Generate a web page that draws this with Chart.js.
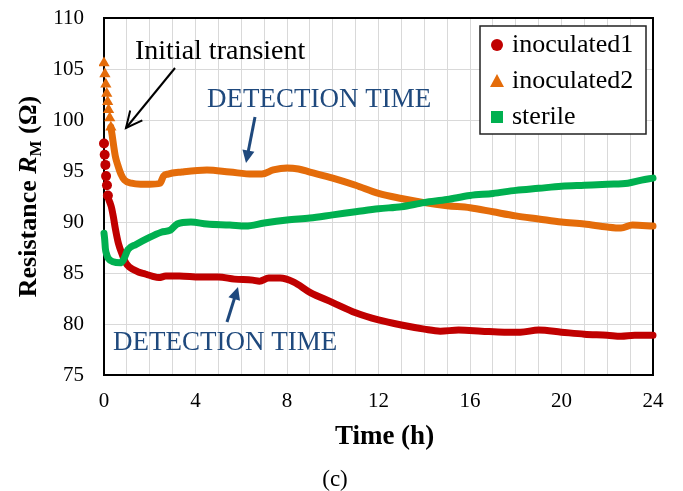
<!DOCTYPE html>
<html>
<head>
<meta charset="utf-8">
<script src="https://cdn.jsdelivr.net/npm/chart.js@4.4.1/dist/chart.umd.min.js"></script>
<style>
  html, body { margin: 0; padding: 0; background: #fff; }
  #wrap { width: 683px; height: 491px; }
</style>
</head>
<body>
<div id="wrap"><canvas id="chart" width="683" height="491"></canvas></div>
<script>
// Data
// ------------------------------

var hoursInoc1 = [0, 0.03, 0.06, 0.09, 0.13, 0.17, 0.26, 0.33, 0.41, 0.5, 0.63, 0.8, 0.95, 1.1, 1.5, 1.8, 2.1, 2.4, 2.7, 3.3, 4.2, 5, 5.7, 6.5, 6.8, 7.2, 7.7, 8.3, 9, 10, 11, 12, 13, 14, 14.7, 15.5, 16.5, 17.5, 18.2, 19, 20, 21, 22, 22.6, 23.2, 24];
var inoculated1 = [97.7, 96.6, 95.6, 94.5, 93.6, 92.6, 91.9, 91.4, 90.5, 89.3, 87.9, 86.8, 86.0, 85.6, 85.1, 84.9, 84.7, 84.55, 84.7, 84.7, 84.6, 84.6, 84.4, 84.3, 84.2, 84.5, 84.5, 84.1, 83.1, 82.1, 81.1, 80.4, 79.9, 79.5, 79.3, 79.4, 79.3, 79.2, 79.2, 79.4, 79.2, 79.0, 78.9, 78.8, 78.9, 78.9];

var hoursInoc2 = [0, 0.04, 0.08, 0.12, 0.16, 0.2, 0.25, 0.3, 0.35, 0.42, 0.5, 0.6, 0.74, 0.9, 1.2, 1.6, 2.0, 2.45, 2.6, 2.8, 3.4, 4.5, 5.5, 6.5, 6.9, 7.4, 8, 8.5, 9, 10, 11, 12, 13, 14, 15, 16, 17, 18, 19, 20, 21, 22, 22.6, 23.1, 24];
var inoculated2 = [105.6, 104.5, 103.5, 102.6, 101.8, 101.0, 100.2, 99.3, 98.6, 97.5, 96.4, 95.6, 94.7, 94.1, 93.8, 93.7, 93.7, 93.8, 94.5, 94.7, 94.9, 95.1, 94.9, 94.7, 94.7, 95.1, 95.3, 95.2, 94.9, 94.3, 93.6, 92.8, 92.3, 91.9, 91.6, 91.4, 91.0, 90.6, 90.3, 90.0, 89.8, 89.5, 89.4, 89.7, 89.6];

var hoursSterile = [0, 0.03, 0.06, 0.12, 0.2, 0.4, 0.7, 0.85, 1.05, 1.4, 1.9, 2.5, 2.9, 3.2, 3.8, 4.5, 5.5, 6.2, 7, 8, 9, 10, 11, 12, 13, 14, 15, 16, 17, 18, 19, 20, 21, 22, 22.9, 23.5, 24];
var sterile = [88.9, 88.3, 87.4, 86.8, 86.4, 86.1, 86.0, 86.3, 87.3, 87.8, 88.4, 89.0, 89.2, 89.8, 90.0, 89.8, 89.7, 89.6, 89.9, 90.2, 90.4, 90.7, 91.0, 91.3, 91.5, 91.9, 92.2, 92.6, 92.8, 93.1, 93.3, 93.5, 93.6, 93.7, 93.8, 94.1, 94.3];

var seriesNames = ['inoculated1', 'inoculated2', 'sterile'];
var xTicks = [0, 4, 8, 12, 16, 20, 24];
var yTicks = [75, 80, 85, 90, 95, 100, 105, 110];

var RED = '#C00000', ORANGE = '#E46C0A', GREEN = '#00B050', BLUE = '#1F497D';
var SERIF = "'Liberation Serif', 'Times New Roman', serif";

function pairs(xs, ys) {
    return xs.map(function (x, i) { return {x: x, y: ys[i]}; });
}

// markers are only visible one by one in the steep start
function series(label, xs, ys, color, style, radius, discreteUntil, order) {
    return {
        label: label,
        data: pairs(xs, ys),
        borderColor: color,
        backgroundColor: color,
        borderWidth: 7,
        borderCapStyle: 'round',
        borderJoinStyle: 'round',
        cubicInterpolationMode: 'monotone',
        pointStyle: style,
        pointRadius: function (ctx) {
            var p = ctx.raw;
            return p && p.x <= discreteUntil ? radius : 0;
        },
        pointBorderWidth: 0,
        segment: {
            borderColor: function (ctx) {
                return ctx.p1.parsed.x <= discreteUntil ? 'rgba(0,0,0,0)' : color;
            }
        },
        order: order,
        clip: 5
    };
}

// Drawing helpers
// ------------------------------

function arrow(ctx, x1, y1, x2, y2, color, width, head, open) {
    var a = Math.atan2(y2 - y1, x2 - x1);
    ctx.save();
    ctx.strokeStyle = color;
    ctx.fillStyle = color;
    ctx.lineWidth = width;
    ctx.beginPath();
    ctx.moveTo(x1, y1);
    ctx.lineTo(open ? x2 : x2 - Math.cos(a) * head * 0.8, open ? y2 : y2 - Math.sin(a) * head * 0.8);
    ctx.stroke();
    ctx.beginPath();
    ctx.moveTo(x2 - head * Math.cos(a - 0.45), y2 - head * Math.sin(a - 0.45));
    ctx.lineTo(x2, y2);
    ctx.lineTo(x2 - head * Math.cos(a + 0.45), y2 - head * Math.sin(a + 0.45));
    if (open) {
        ctx.stroke();
    } else {
        ctx.closePath();
        ctx.fill();
    }
    ctx.restore();
}

var decorations = {
    id: 'decorations',
    beforeDatasetsDraw: function (chart) {
        var a = chart.chartArea, ctx = chart.ctx;
        ctx.save();
        ctx.strokeStyle = '#000';
        ctx.lineWidth = 2;
        ctx.strokeRect(a.left, a.top, a.right - a.left, a.bottom - a.top);
        ctx.restore();
    },
    afterDraw: function (chart) {
        var ctx = chart.ctx, a = chart.chartArea;
        ctx.save();

        // annotations
        ctx.textBaseline = 'alphabetic';
        ctx.textAlign = 'left';
        ctx.fillStyle = '#000';
        ctx.font = '28px ' + SERIF;
        ctx.fillText('Initial transient', 135, 59);
        arrow(ctx, 175, 68, 126, 128, '#000', 2, 18, true);

        ctx.fillStyle = BLUE;
        ctx.font = '27px ' + SERIF;
        ctx.fillText('DETECTION TIME', 207, 107);
        ctx.fillText('DETECTION TIME', 113, 350);
        arrow(ctx, 255, 117, 246, 163, BLUE, 3, 14, false);
        arrow(ctx, 227, 322, 238, 287, BLUE, 3, 14, false);

        // legend
        var lx = 480, ly = 26, lw = 166, lh = 108;
        ctx.fillStyle = '#fff';
        ctx.fillRect(lx, ly, lw, lh);
        ctx.strokeStyle = '#222';
        ctx.lineWidth = 1.5;
        ctx.strokeRect(lx, ly, lw, lh);
        var colors = [RED, ORANGE, GREEN];
        var rows = [45, 81, 117];
        ctx.font = '26px ' + SERIF;
        ctx.textBaseline = 'middle';
        rows.forEach(function (ry, i) {
            ctx.fillStyle = colors[i];
            ctx.beginPath();
            if (i === 0) {
                ctx.arc(497, ry, 6, 0, Math.PI * 2);
            } else if (i === 1) {
                ctx.moveTo(497, ry - 7);
                ctx.lineTo(504, ry + 6);
                ctx.lineTo(490, ry + 6);
                ctx.closePath();
            } else {
                ctx.rect(491, ry - 6, 12, 12);
            }
            ctx.fill();
            ctx.fillStyle = '#000';
            ctx.fillText(seriesNames[i], 512, ry);
        });

        // axis titles
        ctx.textBaseline = 'alphabetic';
        ctx.textAlign = 'center';
        ctx.font = 'bold 27px ' + SERIF;
        ctx.fillText('Time (h)', (a.left + a.right) / 2 + 6, 444);
        ctx.font = '23px ' + SERIF;
        ctx.fillText('(c)', 335, 486);

        ctx.translate(36, (a.top + a.bottom) / 2);
        ctx.rotate(-Math.PI / 2);
        ctx.textAlign = 'left';
        var parts = [
            {t: 'Resistance ', f: 'bold 26px ' + SERIF, dy: 0},
            {t: 'R', f: 'italic bold 26px ' + SERIF, dy: 0},
            {t: 'M', f: 'bold 17px ' + SERIF, dy: 5},
            {t: ' (\u03A9)', f: 'bold 26px ' + SERIF, dy: 0}
        ];
        var total = 0;
        parts.forEach(function (p) { ctx.font = p.f; p.w = ctx.measureText(p.t).width; total += p.w; });
        var px = -total / 2;
        parts.forEach(function (p) {
            ctx.font = p.f;
            ctx.fillText(p.t, px, p.dy);
            px += p.w;
        });
        ctx.restore();
    }
};

// Chart setup
// ------------------------------

var chart = new Chart(document.getElementById('chart'), {
    type: 'line',
    data: {
        datasets: [
            series(seriesNames[0], hoursInoc1, inoculated1, RED, 'circle', 5, 0.17, 1),
            series(seriesNames[1], hoursInoc2, inoculated2, ORANGE, 'triangle', 6.5, 0.3, 2),
            series(seriesNames[2], hoursSterile, sterile, GREEN, 'rect', 4, -1, 0)
        ]
    },
    options: {
        responsive: false,
        animation: false,
        layout: { padding: { top: 18, right: 30, left: 0, bottom: 0 } },
        plugins: {
            legend: { display: false },
            tooltip: { enabled: false }
        },
        scales: {
            x: {
                type: 'linear',
                min: 0,
                max: 24,
                afterFit: function (scale) {
                    scale.height = 116;
                    scale.paddingLeft = 0;
                    scale.paddingRight = 0;
                },
                afterBuildTicks: function (scale) {
                    scale.ticks = [];
                    for (var h = 0; h <= 24; h++) scale.ticks.push({value: h});
                },
                ticks: {
                    autoSkip: false,
                    maxRotation: 0,
                    padding: 14,
                    color: '#000',
                    font: { family: SERIF, size: 21 },
                    callback: function (v) { return xTicks.indexOf(v) >= 0 ? String(v) : ''; }
                },
                grid: { color: '#d9d9d9', lineWidth: 1, drawTicks: false },
                border: { display: false }
            },
            y: {
                min: 75,
                max: 110,
                afterFit: function (scale) {
                    scale.width = 104;
                    scale.paddingTop = 0;
                    scale.paddingBottom = 0;
                },
                afterBuildTicks: function (scale) {
                    scale.ticks = yTicks.map(function (v) { return {value: v}; });
                },
                ticks: {
                    padding: 20,
                    color: '#000',
                    font: { family: SERIF, size: 21 }
                },
                grid: { color: '#d9d9d9', lineWidth: 1, drawTicks: false },
                border: { display: false }
            }
        }
    },
    plugins: [decorations]
});
</script>
</body>
</html>
